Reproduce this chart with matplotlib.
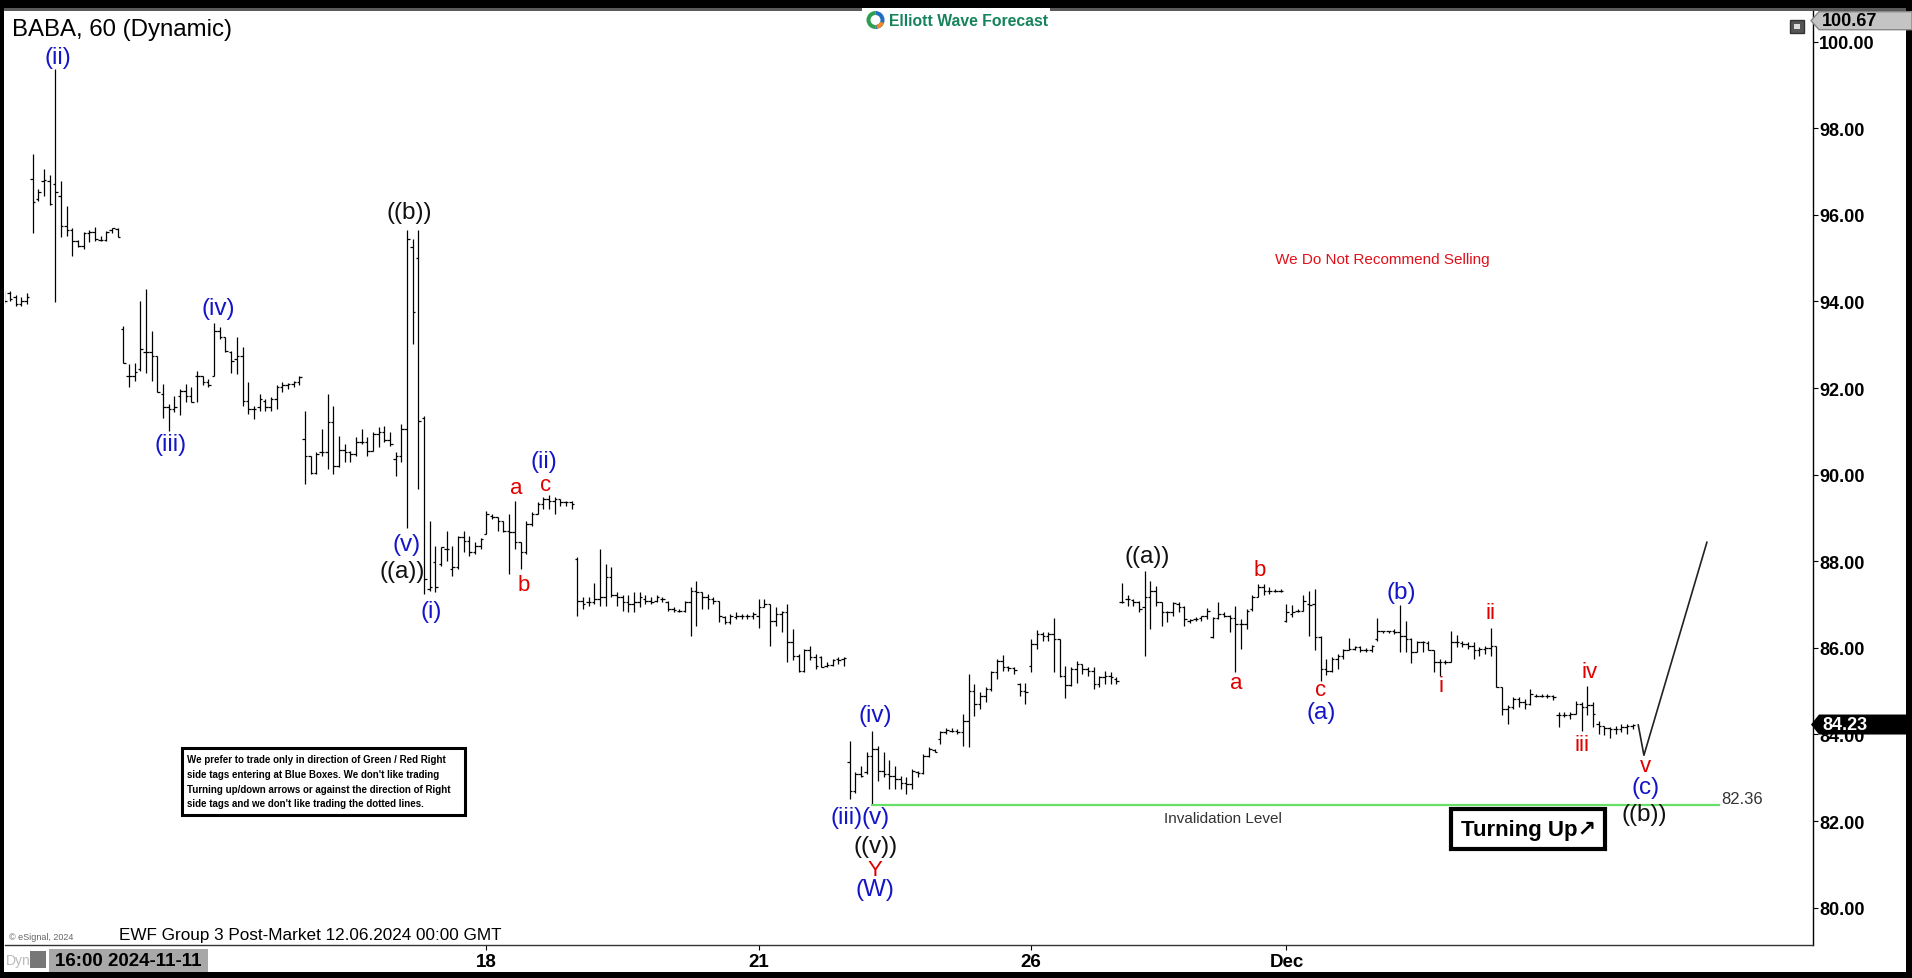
import matplotlib
matplotlib.use('Agg')
import matplotlib.pyplot as plt
from matplotlib.collections import LineCollection
from matplotlib.patches import Rectangle, Polygon, Wedge
from matplotlib.transforms import Affine2D
import numpy as np

plt.rcParams['font.family'] = ['Liberation Sans', 'DejaVu Sans']

# hourly OHLC bars (open, high, low, close)
leg_1 = [
    (94.20, 94.25, 93.95, 94.00), (94.20, 94.25, 94.00, 94.05), (94.10, 94.15, 93.90, 93.95),
    (93.95, 94.10, 93.90, 94.00), (94.00, 94.20, 93.95, 94.10), (96.84, 97.41, 95.58, 96.29),
    (96.37, 96.60, 96.33, 96.52), (96.79, 97.06, 96.44, 96.81), (96.79, 96.91, 96.23, 96.25),
    (96.71, 99.37, 93.98, 96.52), (96.44, 96.79, 95.50, 95.75), (95.75, 96.21, 95.52, 95.65),
    (95.65, 95.69, 95.04, 95.40), (95.40, 95.43, 95.27, 95.29), (95.29, 95.61, 95.21, 95.58),
    (95.58, 95.64, 95.37, 95.61), (95.60, 95.71, 95.40, 95.44), (95.43, 95.52, 95.40, 95.43),
    (95.43, 95.62, 95.40, 95.60), (95.64, 95.70, 95.58, 95.69), (95.67, 95.70, 95.48, 95.50),
]
leg_2 = [
    (93.37, 93.44, 92.59, 92.59), (92.29, 92.56, 92.02, 92.29), (92.29, 92.59, 92.17, 92.38),
    (92.44, 94.02, 92.40, 92.90), (92.83, 94.29, 92.36, 92.83), (92.83, 93.33, 92.17, 92.73),
    (92.73, 92.75, 91.90, 91.92), (91.86, 92.09, 91.32, 91.56), (91.56, 91.63, 91.02, 91.52),
    (91.52, 91.82, 91.44, 91.56), (91.82, 91.98, 91.38, 91.94), (91.94, 92.09, 91.67, 91.82),
    (91.82, 92.02, 91.67, 91.69), (92.29, 92.40, 91.67, 92.29), (92.29, 92.29, 92.07, 92.13),
    (92.13, 92.21, 92.02, 92.06), (92.29, 93.50, 92.29, 93.33), (93.33, 93.40, 93.13, 93.17),
    (93.17, 93.17, 92.83, 92.86), (92.84, 92.86, 92.36, 92.63), (92.67, 93.17, 92.33, 92.75),
    (92.75, 92.94, 91.59, 91.71), (91.71, 92.13, 91.40, 91.52), (91.52, 91.59, 91.29, 91.52),
    (91.56, 91.86, 91.48, 91.75), (91.71, 91.75, 91.48, 91.56), (91.56, 91.79, 91.48, 91.75),
    (91.75, 92.06, 91.52, 92.02), (92.02, 92.13, 91.90, 92.07), (92.07, 92.12, 91.98, 92.09),
    (92.09, 92.17, 92.02, 92.13), (92.13, 92.27, 92.06, 92.25),
]
leg_3 = [
    (90.82, 91.48, 89.79, 90.44), (90.44, 90.44, 90.02, 90.04), (90.05, 90.52, 90.02, 90.48),
    (90.52, 91.06, 90.44, 90.52), (90.52, 91.86, 90.13, 91.21), (91.21, 91.59, 90.02, 90.21),
    (90.21, 90.90, 90.17, 90.58), (90.58, 90.71, 90.29, 90.52), (90.52, 90.55, 90.29, 90.48),
    (90.48, 90.86, 90.44, 90.75), (90.75, 91.06, 90.71, 90.75), (90.75, 90.86, 90.44, 90.55),
    (90.55, 90.98, 90.55, 90.94), (90.94, 91.09, 90.63, 90.98), (90.98, 91.13, 90.75, 90.79),
    (90.79, 90.98, 90.67, 90.71), (90.36, 90.52, 89.98, 90.44), (90.44, 91.17, 90.29, 91.06),
    (91.06, 95.64, 88.78, 95.44), (95.25, 95.44, 93.02, 93.75), (95.00, 95.64, 89.67, 91.25),
    (91.30, 91.36, 87.25, 87.60),
]
leg_4 = [
    (87.36, 88.94, 87.32, 87.40), (87.98, 88.36, 87.28, 87.40), (87.94, 88.32, 87.90, 88.32),
    (88.28, 88.71, 88.01, 88.28), (87.82, 88.36, 87.67, 87.86), (87.86, 88.59, 87.82, 88.55),
    (88.55, 88.71, 88.21, 88.48), (88.48, 88.59, 88.13, 88.21), (88.21, 88.44, 88.17, 88.36),
    (88.36, 88.53, 88.28, 88.52), (88.63, 89.17, 88.63, 89.09), (89.05, 89.09, 88.98, 89.02),
    (89.02, 89.02, 88.71, 88.94), (88.94, 88.94, 88.67, 88.71), (88.71, 89.09, 87.71, 88.67),
    (88.67, 89.40, 88.28, 88.44), (88.44, 88.44, 87.82, 88.21), (88.21, 88.94, 88.17, 88.86),
    (88.86, 89.13, 88.82, 89.09), (89.09, 89.36, 89.09, 89.32), (89.32, 89.48, 89.21, 89.44),
    (89.44, 89.52, 89.21, 89.40), (89.40, 89.48, 89.09, 89.44), (89.44, 89.45, 89.28, 89.36),
    (89.36, 89.40, 89.28, 89.36), (89.36, 89.40, 89.21, 89.32),
]
leg_5 = [
    (88.05, 88.09, 86.74, 87.09), (87.09, 87.17, 86.90, 87.01), (87.05, 87.17, 86.97, 87.05),
    (87.05, 87.51, 87.01, 87.13), (87.13, 88.28, 86.97, 87.17), (87.17, 87.94, 86.97, 87.63),
    (87.63, 87.86, 87.17, 87.21), (87.21, 87.28, 86.97, 87.17), (87.17, 87.21, 86.86, 87.05),
    (87.05, 87.21, 86.82, 87.01), (87.01, 87.28, 86.82, 87.05), (87.05, 87.28, 86.94, 87.17),
    (87.13, 87.21, 87.01, 87.09), (87.09, 87.17, 87.01, 87.05), (87.09, 87.21, 87.05, 87.17),
    (87.13, 87.17, 87.05, 87.13), (87.05, 87.09, 86.86, 86.90), (86.90, 86.94, 86.82, 86.88),
    (86.86, 86.90, 86.82, 86.86), (86.86, 87.09, 86.82, 87.05), (87.05, 87.40, 86.28, 87.32),
    (87.32, 87.55, 86.51, 87.28), (87.28, 87.28, 86.90, 87.17), (87.17, 87.24, 86.90, 87.13),
    (87.13, 87.17, 87.01, 87.09), (87.09, 87.09, 86.59, 86.74), (86.71, 86.74, 86.55, 86.59),
    (86.59, 86.78, 86.55, 86.74), (86.71, 86.82, 86.67, 86.74), (86.74, 86.78, 86.67, 86.74),
    (86.74, 86.78, 86.67, 86.74), (86.74, 86.82, 86.67, 86.78), (86.74, 87.13, 86.47, 86.94),
    (86.94, 87.13, 86.94, 87.01), (87.01, 87.01, 86.05, 86.63), (86.63, 86.94, 86.51, 86.78),
    (86.78, 86.86, 86.36, 86.82), (86.82, 87.01, 85.67, 86.13), (86.13, 86.44, 85.71, 85.82),
    (85.82, 85.86, 85.44, 85.47), (85.47, 85.97, 85.44, 85.94), (85.94, 86.05, 85.71, 85.78),
    (85.78, 85.86, 85.51, 85.59), (85.80, 85.82, 85.55, 85.57), (85.59, 85.67, 85.55, 85.60),
    (85.60, 85.74, 85.59, 85.73), (85.74, 85.78, 85.63, 85.73), (85.74, 85.78, 85.59, 85.76),
]
leg_6 = [
    (83.36, 83.86, 82.51, 82.70), (82.70, 83.13, 82.66, 83.09), (83.09, 83.28, 83.01, 83.05),
    (83.13, 83.59, 83.09, 83.51), (83.51, 84.09, 82.36, 83.66), (83.66, 83.74, 82.93, 83.16),
    (83.16, 83.59, 83.01, 83.09), (83.09, 83.40, 82.74, 83.05), (83.05, 83.28, 82.74, 82.97),
    (82.97, 83.05, 82.74, 82.89), (82.89, 83.01, 82.63, 82.86), (82.86, 83.20, 82.74, 83.16),
    (83.13, 83.16, 83.01, 83.11), (83.11, 83.55, 83.09, 83.51), (83.51, 83.70, 83.47, 83.66),
    (83.65, 83.66, 83.59, 83.60), (83.90, 84.09, 83.78, 84.05), (84.05, 84.14, 84.01, 84.11),
    (84.09, 84.14, 84.05, 84.09), (84.09, 84.13, 84.01, 84.05), (84.05, 84.47, 83.74, 84.32),
    (84.32, 85.40, 83.70, 85.01), (85.01, 85.17, 84.43, 84.70), (84.70, 84.97, 84.59, 84.90),
    (84.90, 85.09, 84.74, 85.05), (85.05, 85.47, 85.01, 85.44), (85.44, 85.74, 85.28, 85.70),
    (85.70, 85.84, 85.47, 85.55), (85.55, 85.59, 85.47, 85.53), (85.53, 85.55, 85.40, 85.50),
    (85.17, 85.20, 84.90, 85.01), (85.01, 85.20, 84.70, 84.97),
]
leg_7 = [
    (85.59, 86.21, 85.44, 86.09), (86.09, 86.42, 85.97, 86.32), (86.32, 86.36, 86.17, 86.28),
    (86.28, 86.36, 86.17, 86.32), (86.32, 86.68, 85.44, 86.21), (86.21, 86.21, 85.32, 85.36),
    (85.36, 85.59, 84.84, 85.14), (85.14, 85.55, 85.13, 85.51), (85.51, 85.70, 85.20, 85.63),
    (85.63, 85.63, 85.40, 85.51), (85.51, 85.55, 85.36, 85.47), (85.47, 85.55, 85.05, 85.17),
    (85.17, 85.36, 85.09, 85.32), (85.32, 85.47, 85.17, 85.36), (85.36, 85.44, 85.17, 85.32),
    (85.28, 85.32, 85.17, 85.24), (87.05, 87.49, 87.04, 87.07), (87.13, 87.21, 86.97, 87.13),
    (87.11, 87.13, 86.97, 87.05), (87.05, 87.09, 86.84, 86.90),
]
leg_8 = [
    (86.94, 87.78, 85.82, 87.17), (87.17, 87.55, 86.44, 87.32), (87.32, 87.44, 86.97, 87.05),
    (87.05, 87.05, 86.50, 86.82), (86.82, 86.86, 86.59, 86.82), (86.82, 87.07, 86.74, 87.03),
    (87.01, 87.05, 86.82, 86.94), (86.94, 86.97, 86.51, 86.67), (86.63, 86.67, 86.57, 86.65),
    (86.67, 86.71, 86.63, 86.67), (86.68, 86.74, 86.63, 86.73), (86.73, 86.91, 86.67, 86.86),
    (86.24, 86.71, 86.22, 86.68), (86.68, 87.07, 86.67, 86.78), (86.78, 86.82, 86.71, 86.74),
    (86.74, 86.76, 86.36, 86.68), (86.68, 86.97, 85.44, 86.55), (86.55, 86.67, 85.97, 86.55),
    (86.55, 86.90, 86.44, 86.86), (86.90, 87.21, 86.86, 87.17), (87.17, 87.47, 87.17, 87.40),
    (87.40, 87.47, 87.21, 87.32), (87.32, 87.40, 87.24, 87.32), (87.32, 87.36, 87.28, 87.32),
    (87.32, 87.36, 87.28, 87.32),
]
leg_9 = [
    (86.63, 87.01, 86.59, 86.82), (86.78, 86.98, 86.71, 86.82), (86.86, 86.90, 86.82, 86.86),
    (86.86, 87.22, 86.86, 87.09), (87.01, 87.32, 86.28, 86.98), (87.01, 87.36, 85.95, 86.24),
    (86.24, 86.28, 85.24, 85.51), (85.51, 85.74, 85.37, 85.47), (85.47, 85.78, 85.45, 85.74),
    (85.74, 85.86, 85.51, 85.82), (85.82, 85.97, 85.74, 85.94), (85.94, 86.22, 85.94, 85.97),
    (85.97, 86.05, 85.94, 86.01), (86.01, 86.05, 85.90, 85.94), (85.94, 85.99, 85.90, 85.94),
    (85.94, 86.07, 85.90, 86.04), (86.21, 86.68, 86.17, 86.40), (86.38, 86.40, 86.34, 86.38),
    (86.38, 86.40, 86.34, 86.38), (86.38, 86.44, 86.32, 86.36), (86.36, 86.98, 85.90, 86.28),
    (86.28, 86.63, 85.91, 86.21), (86.21, 86.22, 85.64, 85.90), (85.90, 86.17, 85.90, 86.13),
    (86.13, 86.17, 85.90, 86.13), (86.11, 86.15, 85.94, 85.96), (85.96, 85.96, 85.44, 85.67),
    (85.67, 85.74, 85.36, 85.67), (85.67, 85.73, 85.63, 85.68), (85.68, 86.38, 85.67, 86.13),
    (86.13, 86.30, 86.01, 86.13), (86.11, 86.15, 86.01, 86.09), (86.09, 86.13, 85.97, 86.05),
    (86.05, 86.13, 85.74, 85.94), (85.94, 86.01, 85.82, 85.97), (85.97, 86.04, 85.86, 85.99),
    (85.99, 86.45, 85.82, 86.05),
]
leg_10 = [
    (86.04, 86.05, 85.09, 85.09), (85.09, 85.09, 84.44, 84.59), (84.59, 84.67, 84.24, 84.63),
    (84.63, 84.86, 84.59, 84.82), (84.82, 84.86, 84.63, 84.74), (84.74, 84.82, 84.59, 84.70),
    (84.70, 85.04, 84.67, 84.94), (84.90, 84.94, 84.86, 84.88), (84.88, 84.94, 84.86, 84.90),
    (84.90, 84.94, 84.84, 84.88), (84.88, 84.91, 84.80, 84.86), (84.44, 84.51, 84.17, 84.44),
    (84.44, 84.51, 84.40, 84.45), (84.45, 84.51, 84.36, 84.47), (84.47, 84.78, 84.47, 84.70),
    (84.70, 84.74, 84.09, 84.63), (84.63, 85.11, 84.44, 84.67), (84.67, 84.74, 84.17, 84.47),
    (84.24, 84.32, 84.01, 84.20), (84.19, 84.20, 83.99, 84.14), (84.14, 84.17, 83.93, 84.13),
    (84.13, 84.20, 84.01, 84.13), (84.13, 84.24, 84.05, 84.17), (84.17, 84.24, 84.01, 84.20),
    (84.20, 84.24, 84.13, 84.22),
]

date_ticks = [85, 133, 181, 226]
date_labels = ['18', '21', '26', 'Dec']
price_ticks = [80, 82, 84, 86, 88, 90, 92, 94, 96, 98, 100]

last_price = 84.23
high_price = 100.67
invalidation = 82.36
invalidation_span = [153, 302.2]

# projected path after the last bar
path_x = [288.0, 289.0, 300.1]
path_y = [84.22, 83.52, 88.44]

BLUE = '#1414c8'
RED = '#e00000'
BLACK = '#111111'

wave_labels = [
    ('(ii)', 9.5, 99.64, BLUE), ('(iii)', 29.3, 90.71, BLUE), ('(iv)', 37.7, 93.84, BLUE),
    ('((b))', 71.4, 96.07, BLACK), ('(v)', 71.0, 88.40, BLUE), ('((a))', 70.2, 87.78, BLACK),
    ('(i)', 75.3, 86.86, BLUE), ('a', 90.2, 89.71, RED), ('b', 91.6, 87.47, RED),
    ('c', 95.4, 89.78, RED), ('(ii)', 95.2, 90.32, BLUE), ('(iv)', 153.5, 84.45, BLUE),
    ('(iii)', 148.5, 82.09, BLUE), ('(v)', 153.5, 82.09, BLUE), ('((v))', 153.5, 81.43, BLACK),
    ('Y', 153.5, 80.89, RED), ('(W)', 153.5, 80.43, BLUE), ('((a))', 201.4, 88.13, BLACK),
    ('a', 217.1, 85.21, RED), ('b', 221.3, 87.82, RED), ('c', 232.0, 85.04, RED),
    ('(a)', 232.2, 84.51, BLUE), ('(b)', 246.2, 87.30, BLUE), ('i', 253.2, 85.12, RED),
    ('ii', 262.0, 86.82, RED), ('iv', 279.5, 85.45, RED), ('iii', 278.1, 83.78, RED),
    ('v', 289.3, 83.28, RED), ('(c)', 289.3, 82.78, BLUE), ('((b))', 289.0, 82.16, BLACK),
]

disclaimer = [
    'We prefer to trade only in direction of Green / Red Right',
    "side tags entering at Blue Boxes. We don't like trading",
    'Turning up/down arrows or against the direction of Right',
    "side tags and we don't like trading the dotted lines.",
]

bars = np.array(leg_1 + leg_2 + leg_3 + leg_4 + leg_5 + leg_6 + leg_7 + leg_8 + leg_9 + leg_10)
o, h, l, c = bars.T
x = np.arange(len(bars))

W, H = 1912, 979
fig = plt.figure(figsize=(W / 100, H / 100), dpi=100)
fig.patch.set_facecolor('black')
pix = Affine2D().scale(1, -1).translate(0, H).scale(1 / W, 1 / H) + fig.transFigure

fig.patches.append(Rectangle((4.5, 12), 1902, 961, transform=pix, facecolor='white', edgecolor='none', zorder=-10))
fig.patches.append(Rectangle((4.5, 9), 1902, 3, transform=pix, facecolor='#5a5a5a', edgecolor='none', zorder=-9))

ax = fig.add_axes([5 / W, (H - 946) / H, 1808 / W, 934 / H])
ax.set_facecolor('white')
ax.set_xlim(0.14, 318.8)
ax.set_ylim(79.138, 100.709)

t = 0.45
segs = [[(xi, lo), (xi, hi)] for xi, lo, hi in zip(x, l, h)]
segs += [[(xi - t, op), (xi, op)] for xi, op in zip(x, o)]
segs += [[(xi, cl), (xi + t, cl)] for xi, cl in zip(x, c)]
ax.add_collection(LineCollection(segs, colors='black', linewidths=0.9))

ax.plot(path_x, path_y, color='#222222', lw=1.2)
ax.plot(invalidation_span, [invalidation] * 2, color='#66e066', lw=1.6)
ax.text(invalidation_span[1] + 0.4, invalidation + 0.16, f'{invalidation:.2f}', fontsize=12,
        color='#333333', ha='left', va='center')
ax.text(214.8, 82.07, 'Invalidation Level', fontsize=11, color='#333333', ha='center', va='center')
ax.text(242.9, 94.98, 'We Do Not Recommend Selling', fontsize=11, color='#e0101a', ha='center', va='center')

for s, xx, yy, col in wave_labels:
    size = 17.5 if '(' in s else 16
    ax.text(xx, yy, s, color=col, fontsize=size, ha='center', va='center')

# disclaimer box
ax.add_patch(Rectangle((31.4, 82.15), 49.8, 1.54, facecolor='white', edgecolor='black', lw=2.2, zorder=3))
for i, line in enumerate(disclaimer):
    ax.text(32.2, 83.43 - i * 0.34, line, fontsize=7, fontweight='bold', ha='left', va='center', zorder=4)

# turning up box
ax.add_patch(Rectangle((255.0, 81.35), 27.1, 0.93, facecolor='white', edgecolor='black', lw=3, zorder=3))
ax.text(268.6, 81.80, 'Turning Up\u2197', fontsize=16, fontweight='bold', ha='center', va='center',
        family=['Liberation Sans', 'DejaVu Sans'], zorder=4)

for side in ['top', 'left']:
    ax.spines[side].set_visible(False)
ax.spines['right'].set_linewidth(1.0)
ax.spines['bottom'].set_linewidth(1.0)
ax.spines['bottom'].set_color('#333333')

ax.yaxis.tick_right()
ax.set_yticks(price_ticks)
ax.set_yticklabels([f'{p:.2f}' for p in price_ticks])
ax.tick_params(axis='y', length=3.5, width=0.8, pad=1, labelsize=13)
ax.set_xticks(date_ticks)
ax.set_xticklabels(date_labels)
ax.tick_params(axis='x', length=3.5, width=0.8, pad=2, labelsize=13.5)
for lab in ax.get_xticklabels() + ax.get_yticklabels():
    lab.set_fontweight('bold')

# header
fig.text(12, 30, 'BABA, 60 (Dynamic)', transform=pix, fontsize=17.3, ha='left', va='center')
fig.patches.append(Rectangle((862, 9), 188, 24, transform=pix, facecolor='white', edgecolor='none', zorder=1))
fig.patches.append(Wedge((875.5, 21), 9, 90, 270, width=4, transform=pix, facecolor='#2e9e4f', zorder=2))
fig.patches.append(Wedge((875.5, 21), 9, -90, 90, width=4, transform=pix, facecolor='#1f6fc0', zorder=2))
fig.patches.append(Wedge((875.5, 21), 9, 20, 80, width=4, transform=pix, facecolor='#f08a24', zorder=3))
fig.text(889, 21.5, 'Elliott Wave Forecast', transform=pix, fontsize=11.3, fontweight='bold',
         color='#16835c', ha='left', va='center')
fig.patches.append(Rectangle((1790, 21), 14, 13, transform=pix, facecolor='#555555', edgecolor='#333333', zorder=2))
fig.patches.append(Rectangle((1794, 25), 6, 5, transform=pix, facecolor='#dddddd', edgecolor='none', zorder=3))

# price tags on the right axis
fig.patches.append(Polygon([(1811, 21.7), (1819, 12.7), (1912, 12.7), (1912, 30.7), (1819, 30.7)],
                           closed=True, transform=pix, facecolor='#c4c4c4', edgecolor='#888888', zorder=5))
fig.text(1822, 21.7, f'{high_price:.2f}', transform=pix, fontsize=13, fontweight='bold',
         ha='left', va='center', zorder=6)
y_last = H - ax.transData.transform((0, last_price))[1]
fig.patches.append(Polygon([(1811, y_last), (1819, y_last - 10), (1912, y_last - 10), (1912, y_last + 10),
                            (1819, y_last + 10)], closed=True, transform=pix, facecolor='black', zorder=5))
fig.text(1822, y_last, f'{last_price:.2f}', transform=pix, fontsize=13, fontweight='bold',
         color='white', ha='left', va='center', zorder=6)

# footer
fig.text(119.4, 935.5, 'EWF Group 3 Post-Market 12.06.2024 00:00 GMT', transform=pix, fontsize=12.3,
         ha='left', va='center')
fig.text(8.6, 937.7, '\u00a9 eSignal, 2024', transform=pix, fontsize=6.5, color='#666666', ha='left', va='center')
fig.patches.append(Rectangle((49, 950), 159, 23, transform=pix, facecolor='#a8a8a8', edgecolor='none', zorder=2))
fig.text(128.5, 961.5, '16:00 2024-11-11', transform=pix, fontsize=13.5, fontweight='bold',
         ha='center', va='center', zorder=3)
fig.text(6, 961, 'Dyn', transform=pix, fontsize=10, color='#bbbbbb', ha='left', va='center')
fig.patches.append(Rectangle((30, 952), 16, 17, transform=pix, facecolor='#777777', edgecolor='none', zorder=2))

fig.savefig('out.png', dpi=100, facecolor=fig.get_facecolor())
